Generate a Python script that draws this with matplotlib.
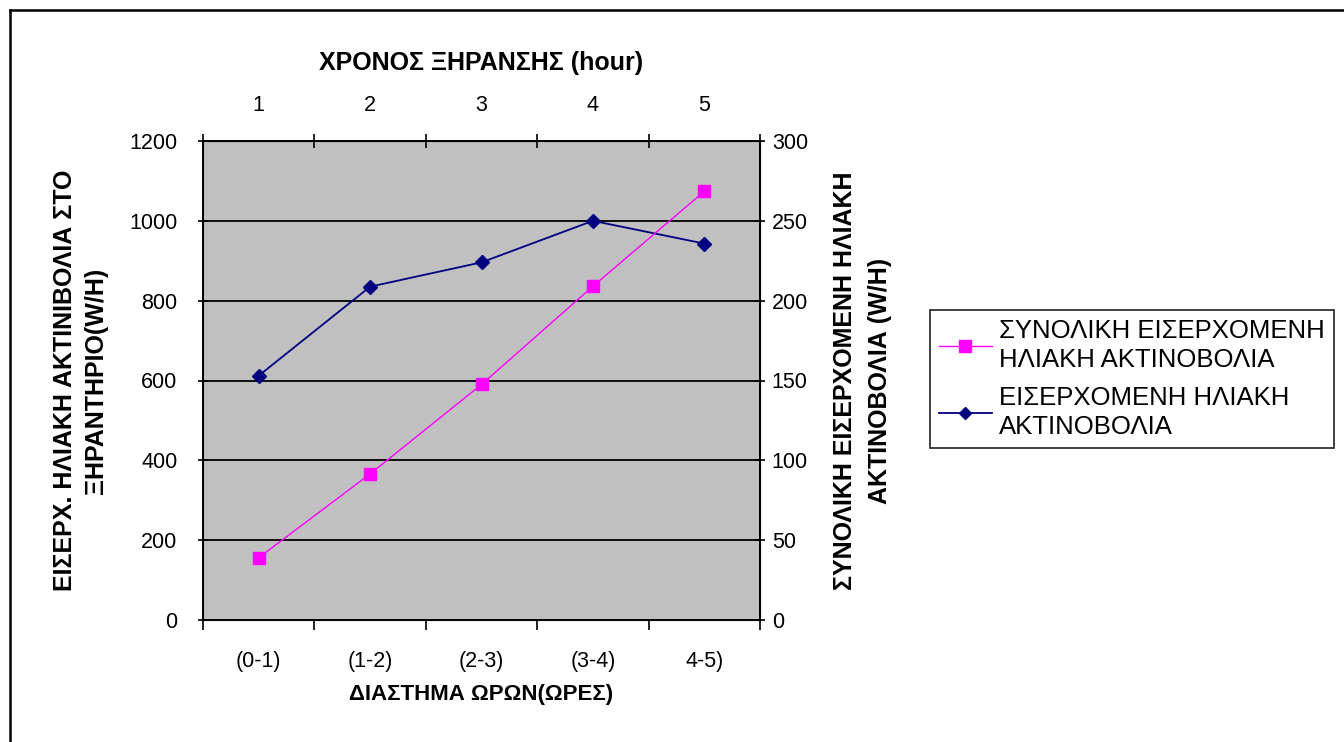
import matplotlib
matplotlib.use("Agg")
import matplotlib.pyplot as plt
from matplotlib.lines import Line2D
from matplotlib.ticker import FixedLocator

categories = ["(0-1)", "(1-2)", "(2-3)", "(3-4)", "4-5)"]
top_labels = ["1", "2", "3", "4", "5"]
incoming = [612, 835, 896, 1000, 943]          # left axis
total_incoming = [39, 91.5, 147.5, 209, 268.5]  # right axis

FONT = ["Liberation Sans", "DejaVu Sans"]
plt.rcParams["font.family"] = FONT

W, H = 1344, 742
fig = plt.figure(figsize=(W / 100, H / 100), dpi=100)
fig.patch.set_facecolor("white")

# outer chart border
fig.add_artist(Line2D([10 / W, 1.0], [1 - 10 / H, 1 - 10 / H], color="black", lw=1.8, transform=fig.transFigure))
fig.add_artist(Line2D([10 / W, 10 / W], [0, 1 - 10 / H], color="black", lw=1.8, transform=fig.transFigure))

left, right, top, bottom = 203, 760, 141, 620
ax = fig.add_axes([left / W, 1 - bottom / H, (right - left) / W, (bottom - top) / H])
ax.set_facecolor("#C0C0C0")
x = list(range(len(categories)))

TICK_FS = 15.5
ax.set_xlim(-0.5, len(categories) - 0.5)
ax.set_ylim(0, 1200)
ax.set_yticks(range(0, 1201, 200))
ax.yaxis.grid(True, color="black", lw=1.3)
ax.set_axisbelow(True)
ax.set_xticks(x)
ax.set_xticklabels(categories, fontsize=TICK_FS)
ax.xaxis.set_minor_locator(FixedLocator([i - 0.5 for i in range(len(categories) + 1)]))
ax.tick_params(axis="x", which="major", length=0, pad=22)
ax.tick_params(axis="x", which="minor", length=7, width=1.2, direction="out")
ax.tick_params(axis="y", length=7, width=1.2, direction="inout", labelsize=TICK_FS, pad=15)
for s in ax.spines.values():
    s.set_color("black")
    s.set_linewidth(1.3)

ax.plot(x, incoming, color="#000080", lw=1.3, marker="D", markersize=7,
        markerfacecolor="#000080", markeredgecolor="#000080", zorder=4)

ax2 = ax.twinx()
ax2.set_ylim(0, 300)
ax2.set_yticks(range(0, 301, 50))
ax2.tick_params(axis="y", length=7, width=1.2, direction="inout", labelsize=TICK_FS, pad=5)
ax2.plot(x, total_incoming, color="#FF00FF", lw=1.0, marker="s", markersize=8,
         markerfacecolor="#FF00FF", markeredgecolor="#FF00FF", zorder=4)
for s in ax2.spines.values():
    s.set_color("black")
    s.set_linewidth(1.3)

ax3 = ax.twiny()
ax3.set_xlim(ax.get_xlim())
ax3.set_xticks(x)
ax3.set_xticklabels(top_labels, fontsize=TICK_FS)
ax3.xaxis.set_minor_locator(FixedLocator([i - 0.5 for i in range(len(categories) + 1)]))
ax3.tick_params(axis="x", which="major", length=0, pad=18)
ax3.tick_params(axis="x", which="minor", length=10, width=1.2, direction="inout")

ax.set_xlabel("ΔΙΑΣΤΗΜΑ ΩΡΩΝ(ΩΡΕΣ)", fontsize=16, fontweight="bold", labelpad=9)
ax3.set_xlabel("ΧΡΟΝΟΣ ΞΗΡΑΝΣΗΣ (hour)", fontsize=18, fontweight="bold", labelpad=18)
ax.set_ylabel("ΕΙΣΕΡΧ. ΗΛΙΑΚΗ ΑΚΤΙΝΙΒΟΛΙΑ ΣΤΟ\nΞΗΡΑΝΤΗΡΙΟ(W/H)", fontsize=18,
              fontweight="bold", labelpad=15, linespacing=1.38)
ax2.set_ylabel("ΣΥΝΟΛΙΚΗ ΕΙΣΕΡΧΟΜΕΝΗ ΗΛΙΑΚΗ\nΑΚΤΙΝΟΒΟΛΙΑ (W/H)", fontsize=18,
               fontweight="bold", labelpad=18, linespacing=1.55)

handles = [
    Line2D([], [], color="#FF00FF", lw=1.0, marker="s", markersize=8),
    Line2D([], [], color="#000080", lw=1.3, marker="D", markersize=6),
]
labels = ["ΣΥΝΟΛΙΚΗ ΕΙΣΕΡΧΟΜΕΝΗ\nΗΛΙΑΚΗ ΑΚΤΙΝΟΒΟΛΙΑ", "ΕΙΣΕΡΧΟΜΕΝΗ ΗΛΙΑΚΗ\nΑΚΤΙΝΟΒΟΛΙΑ"]
leg = fig.legend(handles, labels, loc="center left", bbox_to_anchor=(930 / W, 1 - 379 / H),
                 prop={"size": 18.5}, frameon=True, fancybox=False,
                 edgecolor="black", handlelength=2.05, borderpad=0.35, labelspacing=0.55,
                 handletextpad=0.3, borderaxespad=0)
for t in leg.get_texts():
    t.set_linespacing(1.25)
leg.get_frame().set_linewidth(1.3)

fig.savefig("out.png", dpi=100)
